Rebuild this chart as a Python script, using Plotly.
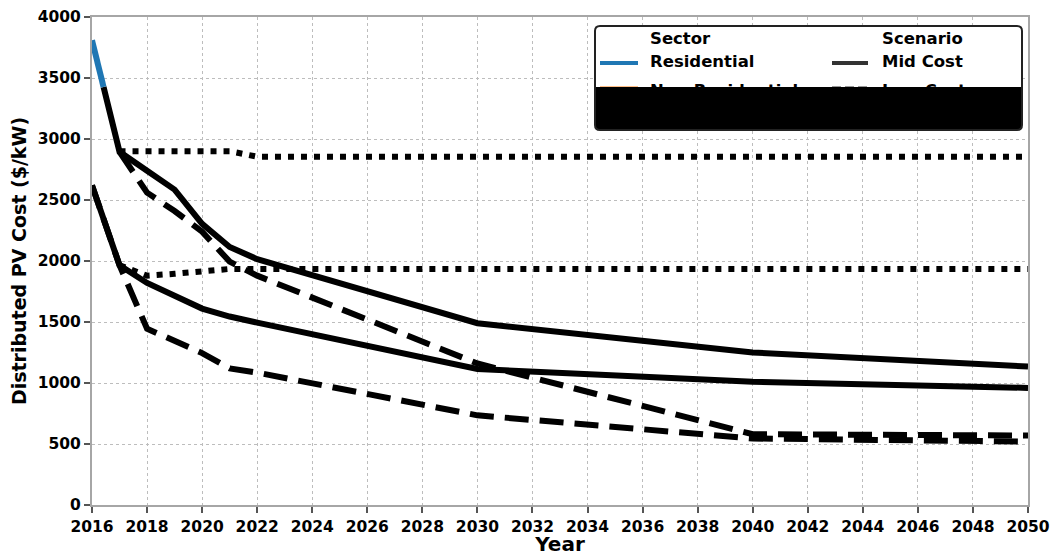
import plotly.graph_objects as go

# ---- data: distributed PV installed cost ($/kW) by sector and scenario ----
X_TICKS = list(range(2016, 2051, 2))
Y_TICKS = list(range(0, 4001, 500))

# residential sector colour run at the very start of the series
RES_SECTOR_YEARS = [2016, 2016.42]
RES_SECTOR_COST = [3810, 3426]

RES_MID_YEARS = [2016.42, 2017, 2018, 2019, 2020, 2021, 2022, 2030, 2040, 2050]
RES_MID_COST = [3426, 2895, 2740, 2585, 2305, 2115, 2015, 1490, 1250, 1135]

RES_LOW_YEARS = [2017, 2018, 2019, 2020, 2021, 2022, 2030, 2040, 2050]
RES_LOW_COST = [2895, 2560, 2410, 2240, 1995, 1880, 1160, 580, 570]

RES_HIGH_YEARS = [2017, 2021, 2022, 2050]
RES_HIGH_COST = [2900, 2900, 2855, 2855]

NONRES_MID_YEARS = [2016, 2017, 2018, 2019, 2020, 2021, 2022, 2030, 2040, 2050]
NONRES_MID_COST = [2620, 1965, 1820, 1715, 1610, 1545, 1495, 1115, 1010, 960]

NONRES_LOW_YEARS = [2016, 2017, 2018, 2019, 2020, 2021, 2022, 2030, 2040, 2050]
NONRES_LOW_COST = [2620, 1965, 1445, 1340, 1245, 1120, 1085, 735, 545, 520]

NONRES_HIGH_YEARS = [2017, 2018, 2019, 2020, 2021, 2050]
NONRES_HIGH_COST = [1965, 1880, 1895, 1915, 1935, 1935]

LEGEND_SECTORS = ["Residential", "Non-Residential"]
LEGEND_SCENARIOS = ["Mid Cost", "Low Cost"]

# ---- styling ----
FONT = "DejaVu Sans"
BLACK = "#000000"
BLUE = "#1f77b4"
ORANGE = "#ff7f0e"
AXIS_GRAY = "#a6a6a6"
GRID_GRAY = "#bdbdbd"
LW = 6
DOT = "6px,7px"
DASH = "24px,11px"

W, H = 1052, 556
ML, MR, MT, MB = 92, 24, 17, 51
PW, PH = W - ML - MR, H - MT - MB


def fx(px):
    return (px - ML) / PW


def fy(py):
    return (H - MB - py) / PH


fig = go.Figure()


def add_line(x, y, color, dash):
    fig.add_trace(go.Scatter(
        x=x, y=y, mode="lines",
        line=dict(color=color, width=LW, dash=dash),
        showlegend=False, hoverinfo="skip", cliponaxis=True,
    ))


add_line(RES_HIGH_YEARS, RES_HIGH_COST, BLACK, DOT)
add_line(NONRES_HIGH_YEARS, NONRES_HIGH_COST, BLACK, DOT)
add_line(RES_LOW_YEARS, RES_LOW_COST, BLACK, DASH)
add_line(NONRES_LOW_YEARS, NONRES_LOW_COST, BLACK, DASH)
add_line(RES_MID_YEARS, RES_MID_COST, BLACK, "solid")
add_line(NONRES_MID_YEARS, NONRES_MID_COST, BLACK, "solid")
add_line(RES_SECTOR_YEARS, RES_SECTOR_COST, BLUE, "solid")

# ---- legend panel, drawn on an overlay axis spanning the plot area ----
bx0, bx1, by_top, by_bot = fx(595), fx(1022), fy(26), fy(130)
row_y = [fy(40), fy(63), fy(92)]
col1_line = (fx(600), fx(638))
col2_line = (fx(832), fx(868))
col1_text, col2_text = fx(650), fx(882)

leg = dict(xaxis="x2", yaxis="y2", showlegend=False, hoverinfo="skip")

fig.add_trace(go.Scatter(
    x=[bx0, bx1, bx1, bx0, bx0], y=[by_bot, by_bot, by_top, by_top, by_bot],
    mode="lines", fill="toself", fillcolor="white", line=dict(width=0), **leg))

fig.add_trace(go.Scatter(x=list(col1_line), y=[row_y[1]] * 2, mode="lines",
                         line=dict(color=BLUE, width=4), **leg))
fig.add_trace(go.Scatter(x=list(col1_line), y=[fy(88.5)] * 2, mode="lines",
                         line=dict(color=ORANGE, width=4), **leg))
fig.add_trace(go.Scatter(x=list(col2_line), y=[row_y[1]] * 2, mode="lines",
                         line=dict(color="#333333", width=4), **leg))
fig.add_trace(go.Scatter(x=list(col2_line), y=[fy(88.5)] * 2, mode="lines",
                         line=dict(color="#333333", width=4, dash="9px,4px"), **leg))

fig.add_trace(go.Scatter(
    x=[col1_text] * 3 + [col2_text] * 3,
    y=row_y + row_y,
    text=["Sector"] + LEGEND_SECTORS + ["Scenario"] + LEGEND_SCENARIOS,
    mode="text", textposition="middle right",
    textfont=dict(family=FONT, size=16.5, color=BLACK, weight="bold"),
    **leg))

rx, ry = 5 / PW, 5 / PH
cover_top = fy(87)
cover_path = (
    f"M {bx0},{cover_top} L {bx1},{cover_top} L {bx1},{by_bot + ry} "
    f"Q {bx1},{by_bot} {bx1 - rx},{by_bot} L {bx0 + rx},{by_bot} "
    f"Q {bx0},{by_bot} {bx0},{by_bot + ry} Z"
)
frame_path = (
    f"M {bx0 + rx},{by_top} L {bx1 - rx},{by_top} Q {bx1},{by_top} {bx1},{by_top - ry} "
    f"L {bx1},{by_bot + ry} Q {bx1},{by_bot} {bx1 - rx},{by_bot} "
    f"L {bx0 + rx},{by_bot} Q {bx0},{by_bot} {bx0},{by_bot + ry} "
    f"L {bx0},{by_top - ry} Q {bx0},{by_top} {bx0 + rx},{by_top} Z"
)

shapes = [
    dict(type="path", path=cover_path, xref="paper", yref="paper",
         fillcolor=BLACK, line=dict(width=0), layer="above"),
    dict(type="path", path=frame_path, xref="paper", yref="paper",
         line=dict(color="#222222", width=2), layer="above"),
]

tickfont = dict(family=FONT, size=15.5, color=BLACK, weight="bold")

fig.update_layout(
    width=W, height=H,
    margin=dict(l=ML, r=MR, t=MT, b=MB, autoexpand=False),
    paper_bgcolor="white", plot_bgcolor="white",
    showlegend=False,
    shapes=shapes,
    xaxis=dict(
        range=[2016, 2050], tickvals=X_TICKS, ticktext=[str(v) for v in X_TICKS],
        showgrid=True, gridcolor=GRID_GRAY, gridwidth=1, griddash="dot",
        showline=True, linecolor=AXIS_GRAY, linewidth=2, mirror=True,
        ticks="outside", ticklen=6, tickwidth=2, tickcolor="#555555",
        tickfont=tickfont, zeroline=False,
        title=dict(text="Year", standoff=4,
                   font=dict(family=FONT, size=20, color=BLACK, weight="bold")),
    ),
    yaxis=dict(
        range=[0, 4000], tickvals=Y_TICKS, ticktext=[str(v) for v in Y_TICKS],
        showgrid=True, gridcolor=GRID_GRAY, gridwidth=1, griddash="dot",
        showline=True, linecolor=AXIS_GRAY, linewidth=2, mirror=True,
        ticks="outside", ticklen=6, tickwidth=2, tickcolor="#555555",
        tickfont=tickfont, zeroline=False,
        title=dict(text="Distributed PV Cost ($/kW)", standoff=6,
                   font=dict(family=FONT, size=19, color=BLACK, weight="bold")),
    ),
    xaxis2=dict(overlaying="x", range=[0, 1], visible=False, fixedrange=True),
    yaxis2=dict(overlaying="y", range=[0, 1], visible=False, fixedrange=True),
)

fig.write_html("out.html")
